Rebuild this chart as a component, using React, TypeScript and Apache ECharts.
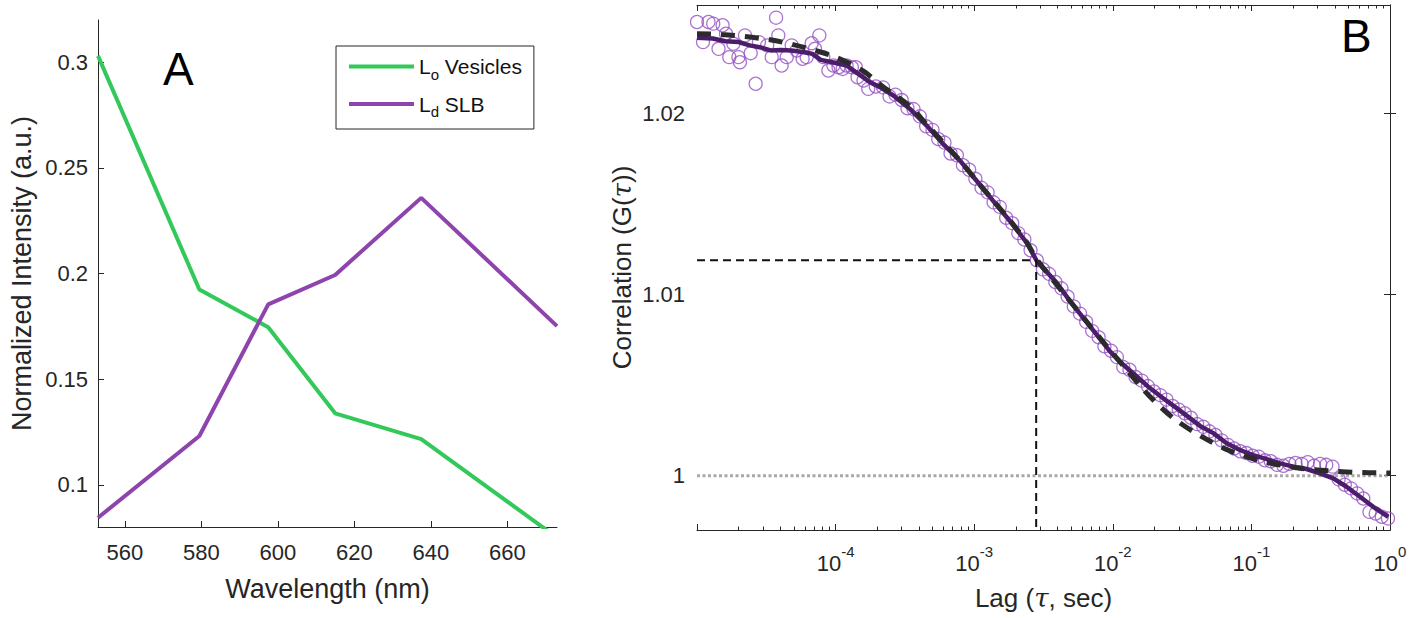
import React, { useEffect, useRef } from "react";
import * as echarts from "echarts";

// ---------- Panel A data ----------
const wavelength = [553, 579.5, 597.5, 615, 637.5, 673];
const loVesicles = [0.303, 0.1924, 0.1746, 0.1338, 0.1216, 0.075];
const ldSLB = [0.0844, 0.1231, 0.1854, 0.1993, 0.2358, 0.1751];
const wavelengthTicks = [560, 580, 600, 620, 640, 660];
const intensityTicks = [0.1, 0.15, 0.2, 0.25, 0.3];

// ---------- Panel B data ----------
const scatterLag = [
  1.0e-5, 1.105e-5, 1.21e-5, 1.31e-5, 1.43e-5, 1.53e-5, 1.62e-5, 1.71e-5, 1.83e-5, 1.99e-5,
  2.04e-5, 2.22e-5, 2.44e-5, 2.65e-5, 2.8e-5, 3.21e-5, 3.46e-5, 3.72e-5, 3.86e-5, 4.08e-5,
  4.44e-5, 4.82e-5, 5.24e-5, 5.78e-5, 6.18e-5, 6.72e-5, 7.1e-5, 7.63e-5, 8.15e-5, 8.87e-5,
  9.64e-5, 1.05e-4, 1.125e-4, 1.2e-4, 1.31e-4, 1.4e-4, 1.44e-4, 1.59e-4, 1.72e-4,
  1.95e-4, 2.2e-4, 2.45e-4, 2.7e-4, 3.0e-4, 3.3e-4, 3.65e-4, 4.05e-4, 4.5e-4, 5.0e-4,
  5.5e-4, 6.1e-4, 6.75e-4, 7.5e-4, 8.3e-4, 9.2e-4, 1.02e-3, 1.13e-3, 1.25e-3, 1.38e-3,
  1.53e-3, 1.7e-3, 1.88e-3, 2.08e-3, 2.3e-3, 2.55e-3, 2.83e-3, 3.13e-3, 3.47e-3, 3.85e-3,
  4.26e-3, 4.72e-3, 5.23e-3, 5.8e-3, 6.42e-3, 7.1e-3, 7.9e-3, 8.7e-3, 9.7e-3, 1.07e-2,
  1.19e-2, 1.32e-2, 1.46e-2, 1.62e-2, 1.79e-2, 1.98e-2, 2.2e-2, 2.44e-2, 2.7e-2, 2.99e-2,
  3.3e-2, 3.66e-2, 4.06e-2, 4.5e-2, 4.98e-2, 5.5e-2, 6.1e-2, 6.77e-2, 7.5e-2, 8.3e-2,
  9.2e-2, 0.102, 0.113, 0.125, 0.138, 0.153, 0.17, 0.188, 0.208, 0.23, 0.255,
  0.283, 0.313, 0.347, 0.385, 0.426, 0.472, 0.523, 0.58, 0.642, 0.711,
  0.788, 0.873, 0.967,
];
const scatterG = [
  1.02506, 1.02395, 1.02506, 1.02497, 1.02358, 1.02488, 1.02441, 1.02312, 1.02386, 1.02312,
  1.02284, 1.02432, 1.02334, 1.02165, 1.02395, 1.02377, 1.02312, 1.0253, 1.02432, 1.02266,
  1.02312, 1.02377, 1.02349, 1.02303, 1.02312, 1.02389, 1.02358, 1.02432, 1.02312, 1.02238,
  1.02266, 1.02256, 1.02247, 1.02266, 1.02256, 1.02256, 1.02201, 1.02183, 1.02137,
  1.0215, 1.02145, 1.02095, 1.02105, 1.02075, 1.0203, 1.02025, 1.01985, 1.0193, 1.0191,
  1.0186, 1.0184, 1.0178, 1.0177, 1.01715, 1.0169, 1.0164, 1.0159, 1.01565, 1.0151,
  1.01485, 1.01425, 1.01395, 1.0134, 1.01305, 1.01245, 1.0119, 1.0114, 1.01115, 1.0107,
  1.01035, 1.0099, 1.00935, 1.00895, 1.0085, 1.008, 1.00765, 1.00715, 1.0069, 1.00655,
  1.006, 1.00585, 1.00545, 1.00525, 1.00495, 1.00465, 1.00445, 1.0042, 1.00385, 1.00365,
  1.00345, 1.0032, 1.00285, 1.0027, 1.00245, 1.00225, 1.00195, 1.0017, 1.0015, 1.00135,
  1.00125, 1.0011, 1.00105, 1.00085, 1.0008, 1.0006, 1.00055, 1.00065, 1.0007, 1.00065, 1.00075,
  1.00055, 1.00065, 1.0006, 1.0005, 0.9998, 0.9995, 0.9993, 0.99902, 0.99874, 0.998,
  0.99791, 0.99773, 0.99764,
];
const smoothLag = [
  1.0e-5, 1.3e-5, 1.6e-5, 2.0e-5, 2.4e-5, 2.9e-5, 3.4e-5, 4.0e-5, 4.8e-5, 5.8e-5,
  6.8e-5, 7.8e-5, 9.5e-5, 1.2e-4, 1.4e-4, 1.77e-4, 2.09e-4, 2.61e-4, 3.44e-4, 4.54e-4,
  5.98e-4, 7.9e-4, 1.04e-3, 1.37e-3, 1.81e-3, 2.39e-3, 2.83e-3, 3.16e-3, 3.94e-3, 4.91e-3,
  6.12e-3, 7.65e-3, 9.54e-3, 1.19e-2, 1.49e-2, 1.85e-2, 2.31e-2, 2.89e-2, 3.6e-2, 4.26e-2,
  5.31e-2, 6.63e-2, 8.27e-2, 0.103, 0.129, 0.161, 0.2, 0.25, 0.312, 0.39,
  0.486, 0.607, 0.757, 0.972,
];
const smoothG = [
  1.02419, 1.02415, 1.024, 1.02395, 1.02377, 1.02365, 1.02349, 1.02352, 1.02349, 1.0234,
  1.0233, 1.02297, 1.02284, 1.02266, 1.02229, 1.02174, 1.02146, 1.021, 1.02026, 1.01934,
  1.01832, 1.0174, 1.01629, 1.01518, 1.01407, 1.01287, 1.01186, 1.01145, 1.01066, 1.00964,
  1.00872, 1.00779, 1.00687, 1.00613, 1.00548, 1.00484, 1.00428, 1.00373, 1.00318, 1.00275,
  1.00235, 1.00179, 1.00142, 1.00114, 1.00092, 1.00068, 1.0005, 1.00037, 1.00013, 0.99985,
  0.99939, 0.99884, 0.99828, 0.99773,
];
const fitLag = [
  1e-5, 1.6e-5, 3.37e-5, 5.85e-5, 1e-4, 1.59e-4, 2.1e-4, 3.44e-4, 4.54e-4, 6e-4,
  7.9e-4, 1.04e-3, 1.37e-3, 1.81e-3, 2.39e-3, 2.83e-3, 4.4e-3, 6.3e-3, 9.04e-3, 1.26e-2,
  1.8e-2, 2.73e-2, 4.38e-2, 7.21e-2, 0.122, 0.212, 0.369, 0.641, 1.0,
];
const fitG = [
  1.02441, 1.02436, 1.02408, 1.02367, 1.02312, 1.02235, 1.0216, 1.0204, 1.0194, 1.0184,
  1.0174, 1.0163, 1.0152, 1.0141, 1.0129, 1.01195, 1.0101, 1.00862, 1.00715, 1.00585,
  1.00447, 1.00318, 1.00216, 1.00133, 1.00078, 1.00044, 1.00026, 1.00017, 1.00015,
];
const tauD = 2.8e-3;
const gHalf = 1.0119;
const baselineG = 1;
const lagRange = [1e-5, 1];
const corrRange = [0.997, 1.026];
const corrTicks = [1, 1.01, 1.02];

const FONT = "Liberation Sans, Arial, Helvetica, sans-serif";
const AX = "#262626";

function minorLogTicks(): number[] {
  const out: number[] = [];
  for (let d = -5; d < 0; d++) for (let k = 2; k <= 9; k++) out.push(d + Math.log10(k));
  return out;
}

export default function App() {
  const ref = useRef<HTMLDivElement>(null);
  useEffect(() => {
    document.body.style.margin = "0";
    const chart = echarts.init(ref.current!, undefined, { renderer: "svg" });
    const tickLine = { color: AX, width: 1 };
    const labelBase = { fontFamily: FONT, fontSize: 22, color: AX };
    const gridA = { left: 98, top: 20, width: 459, height: 507 };
    const gridB = { left: 697, top: 5, width: 693, height: 525 };
    const minor = minorLogTicks();
    const italicTau = { fontFamily: "DejaVu Serif, serif", fontStyle: "italic", fontSize: 26, color: AX };

    const option: any = {
      animation: false,
      backgroundColor: "#ffffff",
      grid: [
        { ...gridA, containLabel: false },
        { ...gridB, containLabel: false },
      ],
      legend: {
        data: ["Lo Vesicles", "Ld SLB"],
        orient: "vertical",
        left: 336,
        top: 46,
        padding: [10, 12, 10, 13],
        itemGap: 12,
        itemWidth: 65,
        itemHeight: 4,
        icon: "rect",
        borderColor: AX,
        borderWidth: 1,
        backgroundColor: "#fff",
        formatter: (name: string) =>
          name === "Lo Vesicles" ? "{m|L}{sub|o}{m| Vesicles}" : "{m|L}{sub|d}{m| SLB}",
        textStyle: {
          fontFamily: FONT,
          fontSize: 21,
          color: "#111",
          rich: {
            m: { fontFamily: FONT, fontSize: 21, color: "#111", lineHeight: 30, verticalAlign: "middle" },
            sub: { fontFamily: FONT, fontSize: 15, color: "#111", lineHeight: 15, verticalAlign: "bottom" },
          },
        },
      },
      xAxis: [
        {
          gridIndex: 0,
          type: "value",
          min: 553,
          max: 673,
          axisLine: { show: true, lineStyle: tickLine },
          axisTick: { show: true, inside: true, length: 6, customValues: wavelengthTicks, lineStyle: tickLine },
          axisLabel: { ...labelBase, margin: 14, customValues: wavelengthTicks },
          splitLine: { show: false },
          name: "Wavelength (nm)",
          nameLocation: "middle",
          nameGap: 48,
          nameTextStyle: { fontFamily: FONT, fontSize: 27, color: AX },
        },
        {
          gridIndex: 1,
          type: "log",
          logBase: 10,
          min: lagRange[0],
          max: lagRange[1],
          position: "bottom",
          axisLine: { show: true, lineStyle: tickLine },
          axisTick: { show: true, inside: true, length: 6, lineStyle: tickLine },
          axisLabel: {
            margin: 14,
            formatter: (v: number) => {
              const e = Math.round(Math.log10(v));
              if (e === -5) return "";
              return `{b|10}{s|${e}}`;
            },
            rich: {
              b: { fontFamily: FONT, fontSize: 22, color: AX, lineHeight: 30, verticalAlign: "bottom" },
              s: { fontFamily: FONT, fontSize: 15, color: AX, lineHeight: 15, verticalAlign: "top" },
            },
          },
          splitLine: { show: false },
          name: "Lag ({i|τ}, sec)",
          nameLocation: "middle",
          nameGap: 55,
          nameTextStyle: {
            fontFamily: FONT,
            fontSize: 26,
            color: AX,
            rich: { i: italicTau },
          },
        },
        {
          gridIndex: 1,
          type: "log",
          logBase: 10,
          min: lagRange[0],
          max: lagRange[1],
          position: "top",
          axisLine: { show: true, lineStyle: tickLine },
          axisTick: { show: true, inside: true, length: 6, lineStyle: tickLine },
          axisLabel: { show: false },
          splitLine: { show: false },
        },
        {
          gridIndex: 1,
          type: "value",
          min: -5,
          max: 0,
          position: "bottom",
          axisLine: { show: false },
          axisTick: { show: true, inside: true, length: 3.5, customValues: minor, lineStyle: tickLine },
          axisLabel: { show: false },
          splitLine: { show: false },
        },
        {
          gridIndex: 1,
          type: "value",
          min: -5,
          max: 0,
          position: "top",
          axisLine: { show: false },
          axisTick: { show: true, inside: true, length: 3.5, customValues: minor, lineStyle: tickLine },
          axisLabel: { show: false },
          splitLine: { show: false },
        },
      ],
      yAxis: [
        {
          gridIndex: 0,
          type: "value",
          min: 0.08,
          max: 0.32,
          axisLine: { show: true, lineStyle: tickLine },
          axisTick: { show: true, inside: true, length: 6, customValues: intensityTicks, lineStyle: tickLine },
          axisLabel: {
            ...labelBase,
            margin: 10,
            customValues: intensityTicks,
            formatter: (v: number) => String(parseFloat(v.toFixed(3))),
          },
          splitLine: { show: false },
          name: "Normalized Intensity (a.u.)",
          nameLocation: "middle",
          nameGap: 63,
          nameTextStyle: { fontFamily: FONT, fontSize: 27, color: AX },
        },
        {
          gridIndex: 1,
          type: "value",
          min: corrRange[0],
          max: corrRange[1],
          position: "left",
          axisLine: { show: true, lineStyle: tickLine },
          axisTick: { show: true, inside: true, length: 6, customValues: corrTicks, lineStyle: tickLine },
          axisLabel: {
            ...labelBase,
            margin: 12,
            customValues: corrTicks,
            formatter: (v: number) => String(parseFloat(v.toFixed(3))),
          },
          splitLine: { show: false },
          name: "Correlation (G({i|τ}))",
          nameLocation: "middle",
          nameGap: 62,
          nameTextStyle: {
            fontFamily: FONT,
            fontSize: 26,
            color: AX,
            rich: { i: italicTau },
          },
        },
        {
          gridIndex: 1,
          type: "value",
          min: corrRange[0],
          max: corrRange[1],
          position: "right",
          axisLine: { show: true, lineStyle: tickLine },
          axisTick: { show: true, inside: true, length: 6, customValues: corrTicks, lineStyle: tickLine },
          axisLabel: { show: false },
          splitLine: { show: false },
        },
      ],
      series: [
        {
          name: "Lo Vesicles",
          type: "line",
          xAxisIndex: 0,
          yAxisIndex: 0,
          data: wavelength.map((w, i) => [w, loVesicles[i]]),
          symbol: "none",
          clip: true,
          color: "#33c95a",
          lineStyle: { color: "#33c95a", width: 4 },
        },
        {
          name: "Ld SLB",
          type: "line",
          xAxisIndex: 0,
          yAxisIndex: 0,
          data: wavelength.map((w, i) => [w, ldSLB[i]]),
          symbol: "none",
          clip: true,
          color: "#8e44ad",
          lineStyle: { color: "#8e44ad", width: 4 },
        },
        {
          name: "baseline",
          type: "line",
          xAxisIndex: 1,
          yAxisIndex: 1,
          data: [
            [lagRange[0], baselineG],
            [lagRange[1], baselineG],
          ],
          symbol: "none",
          lineStyle: { color: "#a8a8a8", width: 3, type: [3, 2.5] },
        },
        {
          name: "data",
          type: "scatter",
          xAxisIndex: 1,
          yAxisIndex: 1,
          data: scatterLag.map((t, i) => [t, scatterG[i]]),
          symbol: "circle",
          symbolSize: 13,
          itemStyle: { color: "rgba(0,0,0,0)", borderColor: "#9650c4", borderWidth: 1.3 },
        },
        {
          name: "smooth",
          type: "line",
          xAxisIndex: 1,
          yAxisIndex: 1,
          data: smoothLag.map((t, i) => [t, smoothG[i]]),
          symbol: "none",
          lineStyle: { color: "#4b1d6b", width: 4.5 },
        },
        {
          name: "fit",
          type: "line",
          xAxisIndex: 1,
          yAxisIndex: 1,
          data: fitLag.map((t, i) => [t, fitG[i]]),
          symbol: "none",
          smooth: 0.3,
          lineStyle: { color: "#2b2b2b", width: 5, type: [14, 10] },
        },
        {
          name: "tauD",
          type: "line",
          xAxisIndex: 1,
          yAxisIndex: 1,
          data: [
            [lagRange[0], gHalf],
            [tauD, gHalf],
            [tauD, corrRange[0]],
          ],
          symbol: "none",
          lineStyle: { color: "#111", width: 2, type: [8, 5] },
        },
      ],
      graphic: [
        {
          type: "text",
          left: 163,
          top: 46,
          style: { text: "A", fontFamily: FONT, fontSize: 46, fill: "#000" },
        },
        {
          type: "text",
          left: 1341,
          top: 13,
          style: { text: "B", fontFamily: FONT, fontSize: 46, fill: "#000" },
        },
      ],
    };
    chart.setOption(option);
    return () => chart.dispose();
  }, []);
  return <div ref={ref} style={{ width: 1427, height: 618 }} />;
}
